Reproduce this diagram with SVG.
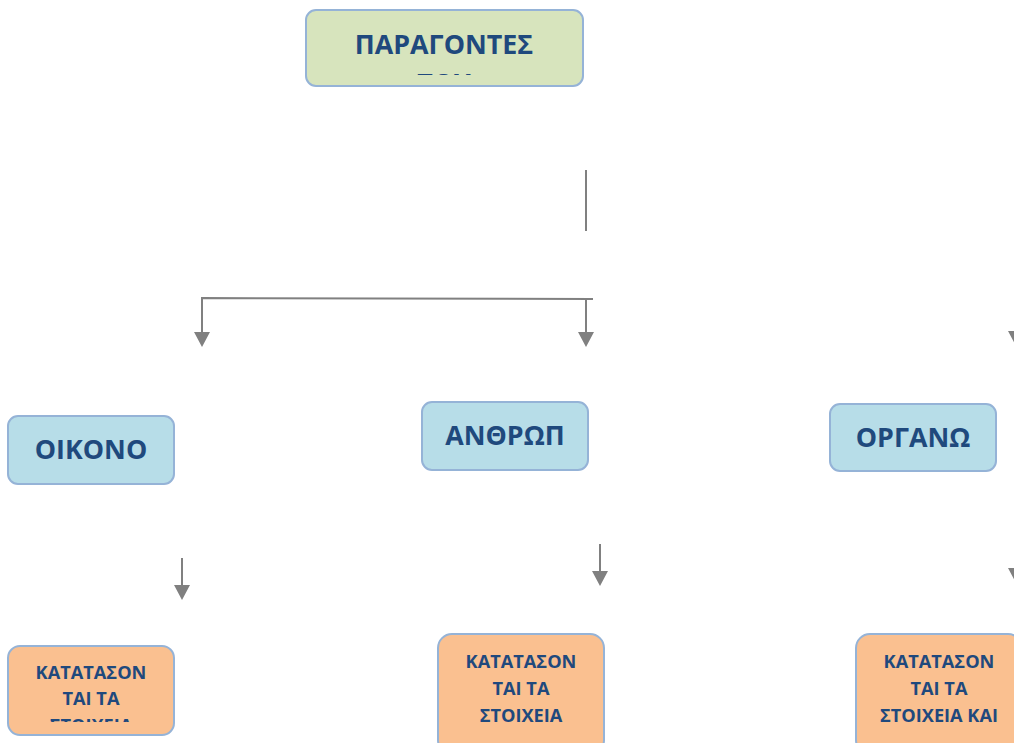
<svg xmlns="http://www.w3.org/2000/svg" width="1014" height="743" viewBox="0 0 1014 743">
<style>
.box{stroke:#95b3d7;stroke-width:2}
.green{fill:#d7e4bd}
.blue{fill:#b7dde8}
.orange{fill:#fac090}
.t{font-family:"Open Sans","Liberation Sans",sans-serif;font-weight:bold;fill:#1f497d;text-anchor:middle}
.big{font-size:26.8px}
.small{font-size:18.2px}
.con{stroke:#808080;stroke-width:2;fill:none}
.head{fill:#808080}
</style>
<defs>
<clipPath id="c1"><rect x="306" y="10" width="277" height="65"/></clipPath>
<clipPath id="c2"><rect x="8" y="646" width="166" height="76"/></clipPath>
</defs>
<g id="connectors">
<line class="con" x1="586" y1="170" x2="586" y2="231"/>
<polyline class="con" points="202,333 202,298 593,299"/>
<line class="con" x1="586" y1="299" x2="586" y2="333"/>
<polygon class="head" points="194,332 210,332 202,347"/>
<polygon class="head" points="578,332 594,332 586,347"/>
<polygon class="head" points="1008,331 1024,331 1016,346"/>
<line class="con" x1="182" y1="558" x2="182" y2="586"/>
<polygon class="head" points="174,585 190,585 182,600"/>
<line class="con" x1="600" y1="544" x2="600" y2="572"/>
<polygon class="head" points="592,571 608,571 600,586"/>
<polygon class="head" points="1008,568 1024,568 1016,583"/>
</g>
<g id="top">
<rect class="box green" x="306" y="10" width="277" height="76" rx="10"/>
<g clip-path="url(#c1)">
<text class="t big" x="444" y="54">ΠΑΡΑΓΟΝΤΕΣ</text>
<text class="t big" x="444" y="93">ΤΟΥ</text>
</g>
</g>
<g id="oikono">
<rect class="box blue" x="8" y="416" width="166" height="68" rx="10"/>
<text class="t big" x="91" y="459">ΟΙΚΟΝΟ</text>
</g>
<g id="anthrop">
<rect class="box blue" x="422" y="402" width="166" height="68" rx="10"/>
<text class="t big" x="505" y="445">ΑΝΘΡΩΠ</text>
</g>
<g id="organo">
<rect class="box blue" x="830" y="404" width="166" height="67" rx="10"/>
<text class="t big" x="913" y="447">ΟΡΓΑΝΩ</text>
</g>
<g id="bottom-left">
<rect class="box orange" x="8" y="646" width="166" height="89" rx="12"/>
<g clip-path="url(#c2)">
<text class="t small" x="91" y="679">ΚΑΤΑΤΑΣΟΝ</text>
<text class="t small" x="91" y="705">ΤΑΙ ΤΑ</text>
<text class="t small" x="91" y="732">ΣΤΟΙΧΕΙΑ</text>
</g>
</g>
<g id="bottom-middle">
<rect class="box orange" x="438" y="634" width="166" height="120" rx="14"/>
<text class="t small" x="521" y="668">ΚΑΤΑΤΑΣΟΝ</text>
<text class="t small" x="521" y="695">ΤΑΙ ΤΑ</text>
<text class="t small" x="521" y="722">ΣΤΟΙΧΕΙΑ</text>
</g>
<g id="bottom-right">
<rect class="box orange" x="856" y="634" width="166" height="120" rx="14"/>
<text class="t small" x="939" y="668">ΚΑΤΑΤΑΣΟΝ</text>
<text class="t small" x="939" y="695">ΤΑΙ ΤΑ</text>
<text class="t small" x="939" y="722">ΣΤΟΙΧΕΙΑ ΚΑΙ</text>
</g>
</svg>
